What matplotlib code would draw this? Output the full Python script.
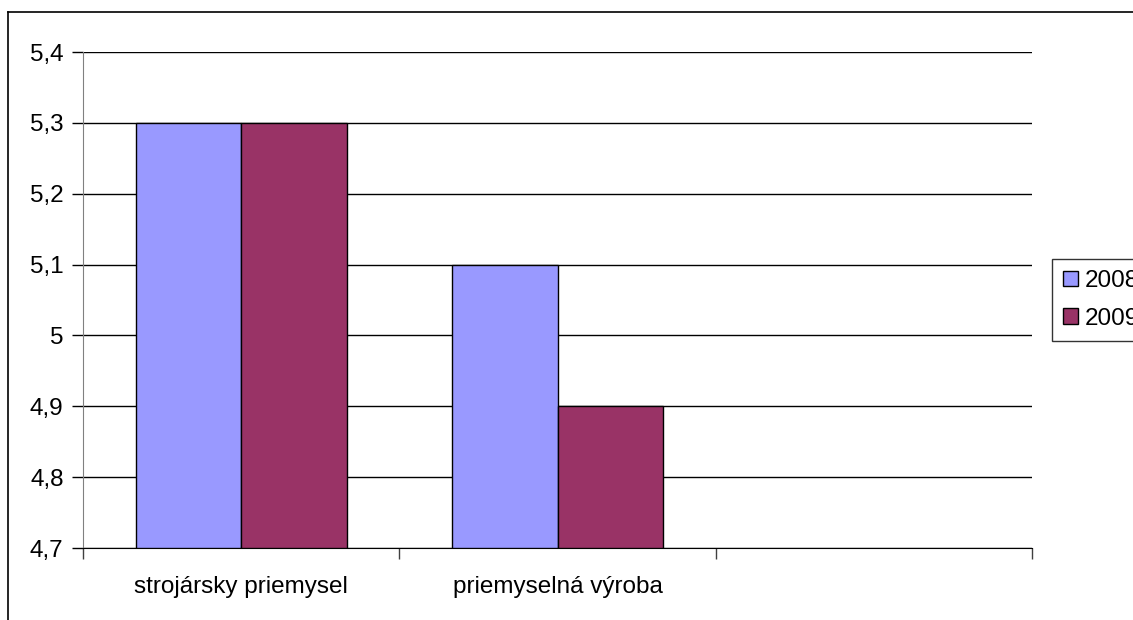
import matplotlib.pyplot as plt
from matplotlib.lines import Line2D
import numpy as np

plt.rcParams['font.family'] = ['Liberation Sans', 'DejaVu Sans']

categories = ['strojársky priemysel', 'priemyselná výroba', '']
val_2008 = [5.3, 5.1, np.nan]
val_2009 = [5.3, 4.9, np.nan]
y_ticks = [4.7, 4.8, 4.9, 5.0, 5.1, 5.2, 5.3, 5.4]
y_labels = ['4,7', '4,8', '4,9', '5', '5,1', '5,2', '5,3', '5,4']

W, H = 1133, 620
fig = plt.figure(figsize=(W / 100, H / 100), dpi=100)
ax = fig.add_axes([83 / W, 1 - 548 / H, (1032 - 83) / W, (548 - 52) / H])

x = np.arange(len(categories))
w = 1 / 3
base = 4.7
ax.bar(x - w / 2, np.array(val_2008) - base, w, bottom=base, color='#9999FF',
       edgecolor='black', linewidth=1, label='2008', zorder=3)
ax.bar(x + w / 2, np.array(val_2009) - base, w, bottom=base, color='#993366',
       edgecolor='black', linewidth=1, label='2009', zorder=3)

ax.set_xlim(-0.5, len(categories) - 0.5)
ax.set_ylim(4.7, 5.4)
ax.set_yticks(y_ticks)
ax.set_yticklabels(y_labels, fontsize=17.5)
ax.set_xticks(x)
ax.set_xticklabels(categories, fontsize=17.5)
ax.set_xticks(np.arange(len(categories) + 1) - 0.5, minor=True)
ax.tick_params(axis='x', which='major', length=0, pad=20)
ax.tick_params(axis='x', which='minor', length=8, width=1, color='#404040')
ax.tick_params(axis='y', length=8, width=1, color='black', pad=6)

ax.yaxis.grid(True, color='black', linewidth=1, zorder=0)
ax.set_axisbelow(True)
for s in ['top', 'right']:
    ax.spines[s].set_visible(False)
ax.spines['left'].set_color('#808080')
ax.spines['bottom'].set_color('black')

# outer chart border (cut off at right and bottom)
fig.add_artist(Line2D([8 / W, 8 / W], [0, 1 - 12 / H], color='black', linewidth=1.2))
fig.add_artist(Line2D([8 / W, 1], [1 - 12 / H, 1 - 12 / H], color='black', linewidth=1.2))

leg = fig.legend(loc='upper left', bbox_to_anchor=(1052 / W, 1 - 259 / H),
                 fontsize=17.5, frameon=True, fancybox=False, edgecolor='black',
                 handlelength=0.6, handleheight=0.6, handletextpad=0.3,
                 borderpad=0.45, labelspacing=0.65, borderaxespad=0)
leg.get_frame().set_linewidth(1)

fig.savefig('out.png', dpi=100)
